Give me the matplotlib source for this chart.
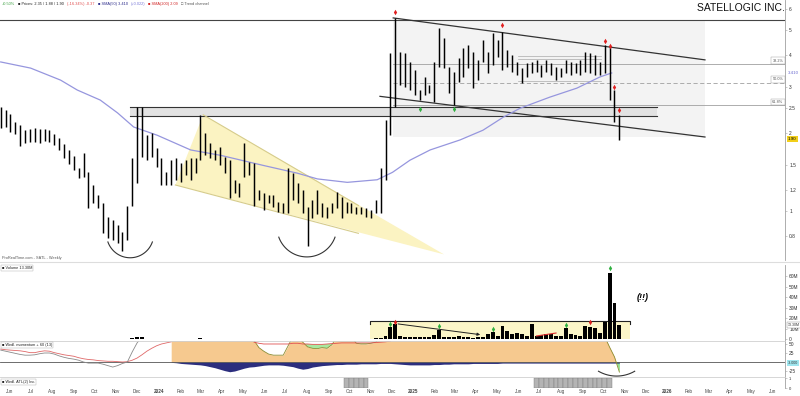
import numpy as np
import pandas as pd
import matplotlib
matplotlib.use("Agg")
import matplotlib.pyplot as plt
import matplotlib.dates as mdates
from matplotlib.lines import Line2D
from matplotlib.ticker import NullLocator

plt.rcParams['font.family'] = ['Liberation Sans', 'DejaVu Sans']

# ---- weekly bars, SATL (USD) ----
weeks = pd.date_range('2023-05-19', periods=128, freq='7D')

high = [2.52, 2.45, 2.37, 2.21, 2.15, 2.05, 2.07, 2.09, 2.07, 2.07,
        2.05, 1.98, 1.91, 1.81, 1.72, 1.63, 1.47, 1.67, 1.41, 1.26,
        1.15, 1.07, 0.95, 0.92, 0.88, 0.83, 1.05, 1.60, 2.52, 2.52,
        1.96, 2.00, 1.75, 1.60, 1.41, 1.57, 1.60, 1.53, 1.57, 1.60,
        1.60, 2.35, 2.00, 1.83, 1.72, 1.77, 1.62, 1.57, 1.32, 1.28,
        1.83, 1.55, 1.53, 1.21, 1.17, 1.15, 1.15, 1.08, 1.07, 1.47,
        1.40, 1.28, 1.21, 1.04, 1.10, 1.21, 1.07, 1.04, 1.07, 1.18,
        1.13, 1.08, 1.07, 1.04, 1.04, 1.03, 1.01, 1.10, 1.47, 2.24,
        4.07, 5.56, 4.11, 4.07, 3.76, 3.50, 2.93, 3.29, 3.06, 3.76,
        5.08, 4.65, 3.60, 3.44, 3.90, 4.26, 4.37, 4.11, 3.83, 4.57,
        4.11, 4.86, 4.57, 4.91, 4.18, 4.00, 3.76, 3.56, 3.73, 3.76,
        3.83, 3.66, 3.83, 3.73, 3.60, 3.56, 3.83, 3.76, 3.73, 3.83,
        4.11, 4.07, 4.00, 3.76, 4.37, 4.29, 2.93, 2.35]
low = [2.09, 2.11, 2.02, 1.98, 1.78, 1.83, 1.85, 1.85, 1.83, 1.87,
       1.85, 1.80, 1.72, 1.60, 1.52, 1.44, 1.34, 1.35, 1.03, 1.07,
       1.03, 0.82, 0.79, 0.77, 0.75, 0.70, 0.77, 1.05, 1.28, 1.62,
       1.57, 1.62, 1.48, 1.26, 1.26, 1.26, 1.32, 1.29, 1.38, 1.32,
       1.40, 1.57, 1.64, 1.60, 1.57, 1.50, 1.40, 1.12, 1.17, 1.13,
       1.35, 1.38, 1.05, 1.10, 1.01, 1.07, 1.04, 0.99, 0.98, 0.98,
       1.10, 1.07, 0.98, 0.73, 0.94, 0.97, 0.95, 0.94, 0.98, 1.03,
       0.94, 0.98, 0.98, 0.97, 0.97, 0.95, 0.94, 0.98, 0.98, 1.32,
       1.96, 2.52, 3.06, 3.01, 2.93, 2.80, 2.68, 2.80, 2.85, 2.63,
       3.60, 3.56, 2.85, 2.57, 3.15, 3.29, 3.56, 2.98, 3.20, 3.76,
       3.41, 3.66, 3.93, 3.50, 3.60, 3.44, 3.35, 3.12, 3.29, 3.41,
       3.44, 3.29, 3.44, 3.35, 3.20, 3.29, 3.41, 3.35, 3.41, 3.35,
       3.44, 3.41, 3.35, 3.35, 3.41, 2.68, 2.21, 1.88]
last_close = 1.90

ma_dates = ['2023-05-19', '2023-07-01', '2023-08-13', '2023-09-06', '2023-10-09',
            '2023-11-03', '2023-11-26', '2023-12-30', '2024-02-16', '2024-03-30',
            '2024-05-30', '2024-07-18', '2024-08-16', '2024-09-28', '2024-11-10',
            '2024-12-02', '2024-12-27', '2025-01-25', '2025-03-09', '2025-04-11',
            '2025-05-10', '2025-06-03', '2025-07-16', '2025-08-24', '2025-09-26',
            '2025-10-13']
ma_vals = [3.76, 3.56, 3.20, 2.93, 2.68, 2.39, 2.11, 1.96, 1.72, 1.64,
           1.50, 1.40, 1.33, 1.29, 1.32, 1.41, 1.57, 1.72, 1.88, 2.05,
           2.30, 2.49, 2.75, 2.98, 3.29, 3.41]

# weekly volume, millions of shares
volume = [0.2, 0.2, 0.1, 0.2, 0.2, 0.1, 0.1, 0.1, 0.1, 0.1,
          0.1, 0.1, 0.2, 0.2, 0.2, 0.2, 0.2, 0.3, 0.3, 0.2,
          0.2, 0.3, 0.2, 0.2, 0.2, 0.3, 0.4, 0.6, 1.8, 1.5,
          0.4, 0.3, 0.2, 0.2, 0.2, 0.2, 0.2, 0.2, 0.1, 0.2,
          0.2, 1.2, 0.4, 0.2, 0.2, 0.2, 0.1, 0.3, 0.2, 0.1,
          0.3, 0.2, 0.2, 0.1, 0.1, 0.1, 0.1, 0.1, 0.1, 0.3,
          0.2, 0.1, 0.1, 0.4, 0.2, 0.2, 0.1, 0.1, 0.1, 0.2,
          0.1, 0.1, 0.1, 0.1, 0.1, 0.1, 0.1, 0.5, 1.2, 3.0,
          11.4, 14.3, 2.9, 2.0, 1.8, 1.6, 1.5, 1.6, 1.5, 4.0,
          8.6, 1.8, 1.5, 1.6, 3.0, 1.6, 1.5, 1.4, 1.5, 1.6,
          5.0, 6.7, 3.0, 12.4, 7.6, 5.0, 5.7, 5.0, 2.5, 14.3,
          2.5, 3.5, 4.5, 4.5, 2.5, 2.5, 10.5, 5.0, 3.5, 3.0,
          12.4, 11.4, 10.5, 5.7, 16.2, 63.0, 34.0, 13.3]

# momentum indicator (weeks 35..127), values above the panel are clipped
osc_tail = [70] * 17 + \
           [60, 40, 30, 22, 19, 19, 19, 45, 70] + \
           [70, 55, 42, 38, 37, 40, 38, 48, 70] + \
           [70, 70, 70, 52, 50, 50, 52, 55, 70] + \
           [70] * 46 + [41, 14, -28]
neg_tail = [-1, -2, -4, -5, -6, -7, -8, -10, -13, -16,
            -20, -24, -27, -25, -21, -17, -14, -13, -11, -9,
            -8, -8, -8, -9, -11, -13, -17, -20, -18, -14,
            -12, -10, -9, -8, -7, -7, -6, -6, -6, -5,
            -5, -5, -5, -4, -4, -4, -5, -6, -7, -8,
            -8, -8, -8, -8, -7, -7, -6, -6, -5, -5,
            -5, -5, -4, -4, -4, -4, -4, -4, -3, -3,
            -3, -3, -3, -3, -3, -3, -3, -3, -3, -3,
            -3, -3, -3, -3, -3, -3, -3, -3, -3, -3,
            -3, -3, -3]
signal_mid = [55, 52, 50, 50, 50, 50, 50, 50, 52, 52,
              50, 50, 49, 49, 49, 50, 51, 52, 53, 53,
              53, 53, 53, 53, 53, 54, 55, 56, 58]          # weeks 52..80
red_left = [36, 34, 33, 32, 31, 29, 26, 26, 29, 31,
            30, 26, 23, 20, 18, 16, 12, 9, 7, 6,
            4, 3, 2, 2, 1, 0, 1, 5, 11, 20,
            30, 38, 45, 50, 53, 56]                         # weeks 0..35
grey_left = [33, 30, 27, 24, 21, 19, 19, 20, 23, 25,
             25, 22, 17, 13, 10, 8, 5, 0, -3, -3,
             -3, -6, -10, -14, -10, -4, 0, 28, 53, 70]      # weeks 0..29

atl_weeks = list(range(71, 76)) + list(range(110, 126))

# ---- figure ----
W, H, R = 800.0, 396.0, 785.0
fig = plt.figure(figsize=(8, 3.96), dpi=100)


def panel(top, bottom, **kw):
    return fig.add_axes([0, 1 - bottom / H, R / W, (bottom - top) / H], **kw)


def px(x, y):
    return x / W, 1 - y / H


ax = panel(0, 260)
axv = panel(265, 341, sharex=ax)
axi = panel(341, 377, sharex=ax)
axa = panel(377, 388, sharex=ax)

for a in (ax, axv, axi, axa):
    a.set_facecolor('none')
    for s in ('left', 'top', 'bottom'):
        a.spines[s].set_visible(False)
    a.spines['right'].set_color('#a0a0a0')
    a.spines['right'].set_linewidth(0.6)
    a.yaxis.tick_right()
    a.tick_params(axis='y', labelsize=3.5, length=1.5, width=0.4, pad=1.5,
                  colors='#a0a0a0', labelcolor='#333333')
    a.tick_params(axis='x', bottom=False, labelbottom=False, length=0)
for a in (axi, axa):
    a.spines['top'].set_visible(True)
    a.spines['top'].set_color('#d0d0d0')
    a.spines['top'].set_linewidth(0.6)

wx = mdates.date2num(weeks)
d = lambda s: mdates.date2num(pd.Timestamp(s))
ax.set_xlim(d('2023-05-18'), d('2026-06-19'))
xmax = d('2026-06-19')


def arc(axis, center, r_days, bottom, r_y, t0, t1, log=False):
    t = np.radians(np.linspace(t0, t1, 50))
    if log:
        mid = np.log2(bottom) + r_y
        ys = 2 ** (mid + r_y * np.sin(t))
    else:
        ys = bottom + r_y + r_y * np.sin(t)
    axis.plot(d(center) + r_days * np.cos(t), ys, color='#333333', lw=0.8, zorder=5)


# ---- price panel ----
ax.set_yscale('log')
ax.set_ylim(0.647, 6.52)
yt = [0.8, 1, 1.2, 1.5, 2, 2.5, 3, 4, 5, 6]
ax.set_yticks(yt)
ax.set_yticklabels(['0.8', '1', '1.2', '1.5', '2', '2.5', '3', '4', '5', '6'])
ax.yaxis.set_minor_locator(NullLocator())

# descending channel box and lines
ax.fill_between([d('2024-12-03'), d('2026-02-24')], 1.93, 5.46, color='#f3f3f3', lw=0, zorder=0)
ax.axhline(5.46, color='#444444', lw=0.8, zorder=1)
ax.plot([d('2024-12-03'), d('2026-02-24')], [5.56, 3.83], color='#333333', lw=0.9, zorder=2)
ax.plot([d('2024-11-14'), d('2026-02-24')], [2.77, 1.93], color='#333333', lw=0.9, zorder=2)

# support band
ax.fill_between([d('2023-11-21'), d('2025-12-17')], 2.33, 2.52, color='#e2e2e2', lw=0, zorder=0.5)
for lvl in (2.33, 2.52):
    ax.plot([d('2023-11-21'), d('2025-12-17')], [lvl, lvl], color='#333333', lw=0.8, zorder=1)

# fibonacci retracements
for lvl, lab, ls in ((3.70, '38.2%', '-'), (3.13, '50.0%', (0, (5, 3))), (2.56, '61.8%', '-')):
    ax.plot([d('2024-12-03'), xmax], [lvl, lvl], color='#a0a0a0', lw=0.6, ls=ls, zorder=1)
    ax.text(0.998, lvl * 1.01, lab, transform=ax.get_yaxis_transform(), ha='right', va='bottom',
            fontsize=2.8, color='#555555',
            bbox=dict(boxstyle='square,pad=0.3', fc='white', ec='#999999', lw=0.3))

# consolidation range
for lvl in (3.98, 3.86, 3.17):
    ax.plot([d('2025-06-01'), d('2025-09-28')], [lvl, lvl], color='#aaaaaa', lw=0.5, zorder=1)

# falling wedge
wedge_x = [d('2024-01-25'), d('2024-03-05'), d('2025-02-14')]
wedge_y = [1.26, 2.35, 0.68]
ax.fill(wedge_x, wedge_y, color='#fbf3c2', lw=0, zorder=0.6)
ax.plot([d('2024-03-05'), d('2024-10-14')], [2.35, 1.05], color='#d6cc8c', lw=0.8, zorder=1)
ax.plot([d('2024-01-25'), d('2024-10-14')], [1.26, 0.82], color='#d6cc8c', lw=0.8, zorder=1)

# moving average
ax.plot(mdates.date2num(pd.to_datetime(ma_dates)), ma_vals, color='#9696de', lw=0.9, zorder=2)

# OHLC bars
ax.vlines(wx, low, high, color='black', lw=1.05, zorder=3)

# signals
red_i = [81, 103, 124, 125, 126, 127]
red_p = [5.88, 5.21, 4.51, 4.32, 3.02, 2.45]
green_i = [86, 93]
green_p = [2.47, 2.47]
ax.plot(wx[red_i], red_p, ls='none', marker='d', ms=2.8, color='#e02020', mec='none', zorder=4)
ax.plot(wx[green_i], green_p, ls='none', marker='d', ms=2.8, color='#30b040', mec='none', zorder=4)

# rounded bottoms
arc(ax, '2023-11-21', 34, 0.66, 0.308, 200, 340, log=True)
arc(ax, '2024-08-01', 43, 0.665, 0.385, 200, 340, log=True)

# right-side value tags
ax.text(1.004, last_close, f'{last_close:.2f}', transform=ax.get_yaxis_transform(),
        ha='left', va='center', fontsize=3.2, color='black',
        bbox=dict(boxstyle='square,pad=0.25', fc='#f2cf1a', ec='none'))
ax.text(1.004, ma_vals[-1], f'{ma_vals[-1]:.3f}', transform=ax.get_yaxis_transform(),
        ha='left', va='center', fontsize=3.2, color='#6b6bd0')

# ---- volume panel ----
axv.set_ylim(-1.9, 70.5)
axv.set_yticks([0, 10, 20, 30, 40, 50, 60])
axv.set_yticklabels(['0', '10M', '20M', '30M', '40M', '50M', '60M'])
box_x = [d('2024-10-31'), d('2025-11-08')]
axv.fill_between(box_x, 0, 17.1, color='#fcf6c8', lw=0, zorder=0)
axv.plot([box_x[0], box_x[0], box_x[1], box_x[1]], [14.5, 17.1, 17.1, 14.5], color='#222222', lw=0.8, zorder=1)
axv.bar(wx, volume, width=5.6, color='black', zorder=2)
axv.annotate('', xy=(wx[99], 3.8), xytext=(wx[81], 14.7),
             arrowprops=dict(arrowstyle='-|>', color='#222222', lw=0.7, mutation_scale=4), zorder=3)
axv.plot(wx[[110, 114]], [2.9, 5.7], color='#e03030', lw=0.8, zorder=3)
axv.plot(wx[[80, 90, 101, 116, 125]], [14.7, 12.6, 9.5, 13.7, 67.6], ls='none', marker='d', ms=2.8,
         color='#30b040', mec='none', zorder=4)
axv.plot(wx[[81, 121]], [16.2, 16.2], ls='none', marker='d', ms=2.8, color='#e02020', mec='none', zorder=4)
axv.text(d('2025-11-27'), 40, '(!!)', fontsize=6.5, style='italic', fontweight='bold', ha='center', va='center')
axv.text(1.004, volume[-1], f'{volume[-1]:.2f}M', transform=axv.get_yaxis_transform(),
         ha='left', va='center', fontsize=2.6, color='#333333',
         bbox=dict(boxstyle='square,pad=0.2', fc='white', ec='#888888', lw=0.3))

# ---- momentum panel ----
axi.set_ylim(-41.6, 58.3)
axi.set_yticks([-25, 25, 50])
axi.set_yticklabels(['-25', '25', '50'])
osc = np.array([np.nan] * 35 + osc_tail, dtype=float)
neg = np.array([np.nan] * 35 + neg_tail, dtype=float)
sig = np.array([np.nan] * 52 + signal_mid + [np.nan] * 47, dtype=float)
idx = np.arange(128)
has = ~np.isnan(osc)
axi.fill_between(wx, 0, osc, where=has & (osc >= 0), interpolate=True, color='#f6c98f', lw=0, zorder=1)
axi.fill_between(wx, osc, 0, where=has & (osc <= 0), interpolate=True, color='#8fe08f', lw=0, zorder=1)
axi.fill_between(wx, neg, 0, where=has, color='#2c2e7e', lw=0, zorder=1)
axi.fill_between(wx, osc, sig, where=(idx >= 61) & (sig > osc), interpolate=True,
                 color='#a8e8a0', lw=0, zorder=1.5)
axi.plot(wx, osc, color='#8c8c30', lw=0.6, zorder=2)
axi.plot(wx, sig, color='#e05050', lw=0.6, zorder=2)
axi.plot(wx[:36], red_left, color='#e06868', lw=0.6, zorder=2)
axi.plot(wx[:30], grey_left, color='#8a8a8a', lw=0.6, zorder=2)
axi.axhline(0, color='#555555', lw=0.6, zorder=1.8)
arc(axi, '2025-10-20', 52, -39, 100, 240, 300)
axi.text(1.004, neg_tail[-1], f'{neg_tail[-1]:.3f}', transform=axi.get_yaxis_transform(),
         ha='left', va='center', fontsize=2.6, color='#333333',
         bbox=dict(boxstyle='square,pad=0.2', fc='#9fe6ef', ec='none'))

# ---- ATL panel ----
axa.set_ylim(0, 1.15)
axa.set_yticks([0, 1])
axa.set_yticklabels(['0', '1'])
axa.tick_params(axis='y', labelsize=3.0)
axa.bar(wx[atl_weeks], [1] * len(atl_weeks), width=7, color='#b4b4b4', edgecolor='#7a7a7a', lw=0.3)

months = pd.date_range('2023-06-01', '2026-06-01', freq='MS')
names = ['Jan', 'Feb', 'Mar', 'Apr', 'May', 'Jun', 'Jul', 'Aug', 'Sep', 'Oct', 'Nov', 'Dec']
axa.set_xticks(mdates.date2num(months))
axa.set_xticklabels([str(m.year) if m.month == 1 else names[m.month - 1] for m in months])
axa.tick_params(axis='x', bottom=False, labelbottom=True, length=0, labelsize=3.3, pad=1.0,
                labelcolor='#444444')
for lab, m in zip(axa.get_xticklabels(), months):
    if m.month == 1:
        lab.set_fontweight('bold')

# ---- texts and separators ----
fig.text(*px(785, 8), 'SATELLOGIC INC.', ha='right', va='center', fontsize=7.5, color='#111111')
head = [('+0.50%', '#3aa040'), ('■ Prices: 2.35 / 1.88 / 1.90', '#222222'),
        ('(-16.34%) -0.37', '#e04a4a'), ('■ SMA(50) 3.410', '#2a2a8a'),
        ('(+0.022)', '#7a7ad8'), ('■ SMA(200) 2.09', '#d02020'), ('□ Trend channel', '#555555')]
fig.canvas.draw()
rend = fig.canvas.get_renderer()
hx = 2
for s, c in head:
    t = fig.text(*px(hx, 4), s, fontsize=2.8, color=c, va='center', ha='left')
    hx += t.get_window_extent(renderer=rend).width + 3
fig.text(*px(2, 258), 'ProRealTime.com - SATL - Weekly', fontsize=2.8, color='#555555', va='center')
fig.text(*px(2, 268), '■ Volume ' + f'{volume[-1]:.2f}M', fontsize=2.8, color='#222222', va='center',
         bbox=dict(boxstyle='square,pad=0.2', fc='white', ec='#aaaaaa', lw=0.3))
fig.text(*px(2, 345), '■ Wedl. momentum + 60 (13)', fontsize=2.8, color='#222222', va='center',
         bbox=dict(boxstyle='square,pad=0.2', fc='white', ec='#aaaaaa', lw=0.3))
fig.text(*px(2, 382), '■ Wedl. ATL(2) Inc.', fontsize=2.8, color='#222222', va='center',
         bbox=dict(boxstyle='square,pad=0.2', fc='white', ec='#aaaaaa', lw=0.3))
fig.add_artist(Line2D([0, 1], [1 - 262 / H] * 2, color='#dddddd', lw=0.8))

fig.savefig('out.png', dpi=100, facecolor='white')
